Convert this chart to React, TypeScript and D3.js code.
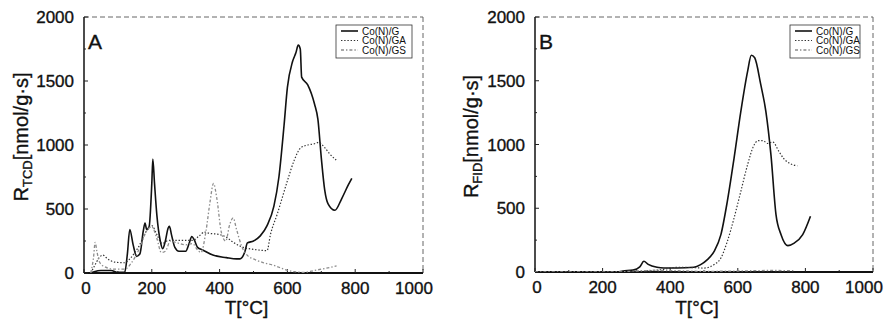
import React from "react";
import * as d3 from "d3";

// axis ticks
const xTicks = [0, 200, 400, 600, 800, 1000];
const yTicks = [0, 500, 1000, 1500, 2000];
const seriesNames = ["Co(N)/G", "Co(N)/GA", "Co(N)/GS"];

type Pt = [number, number];

// panel A: TCD signal, [T °C, R nmol/g s]
const tcdG: Pt[] = [
  [20, 0], [30, 10], [50, 20], [80, 20], [100, 5], [120, 5], [128, 150], [135, 340], [145, 220],
  [155, 130], [165, 150], [175, 330], [180, 390], [185, 340], [192, 360], [200, 700], [203, 890],
  [208, 700], [215, 450], [225, 250], [232, 190], [240, 250], [248, 350], [252, 365], [258, 300],
  [268, 200], [280, 170], [300, 170], [310, 230], [318, 285], [325, 260], [335, 200], [350, 180],
  [380, 140], [420, 120], [450, 110], [460, 110], [475, 170], [482, 235], [500, 250], [520, 290],
  [540, 370], [560, 520], [575, 750], [590, 1150], [600, 1450], [615, 1650], [625, 1720],
  [632, 1780], [638, 1750], [642, 1530], [660, 1470], [680, 1320], [690, 1200], [700, 900],
  [710, 650], [720, 540], [740, 490], [760, 580], [780, 690], [790, 740],
];
const tcdGA: Pt[] = [
  [20, 0], [30, 50], [45, 120], [55, 140], [70, 110], [90, 85], [120, 80], [135, 110], [160, 200],
  [185, 330], [200, 370], [215, 300], [230, 230], [250, 255], [280, 255], [320, 255], [340, 290],
  [355, 320], [370, 310], [400, 300], [420, 280], [440, 240], [470, 200], [500, 185], [540, 175],
  [550, 300], [570, 460], [600, 720], [620, 880], [640, 980], [660, 1000], [680, 1010],
  [692, 1020], [710, 980], [725, 930], [745, 880],
];
const tcdGS: Pt[] = [
  [20, 0], [28, 120], [33, 240], [38, 170], [45, 90], [60, 50], [90, 30], [120, 30], [140, 80],
  [165, 200], [185, 330], [200, 360], [215, 270], [228, 160], [240, 170], [255, 250], [270, 240],
  [300, 220], [320, 230], [335, 180], [345, 160], [360, 330], [372, 560], [382, 700], [392, 580],
  [405, 320], [418, 250], [430, 380], [440, 430], [450, 340], [465, 210], [485, 130], [500, 110],
  [530, 80], [560, 60], [590, 30], [620, 10], [650, 5], [680, 20], [710, 35], [745, 55],
];

// panel B: FID signal
const fidG: Pt[] = [
  [0, 0], [240, 0], [260, 8], [290, 15], [310, 40], [322, 84], [335, 60], [361, 37], [381, 31],
  [421, 31], [470, 37], [490, 58], [510, 97], [530, 162], [550, 293], [569, 554], [589, 894],
  [609, 1260], [629, 1574], [640, 1700], [650, 1680], [668, 1469], [683, 1260], [698, 920],
  [713, 450], [728, 293], [748, 207], [767, 227], [792, 293], [815, 437],
];
const fidGA: Pt[] = [
  [0, 0], [250, 0], [300, 5], [380, 20], [420, 37], [460, 35], [500, 31], [530, 58], [550, 110],
  [569, 240], [589, 424], [609, 633], [629, 842], [647, 990], [660, 1030], [675, 1030],
  [688, 1008], [703, 1020], [722, 944], [736, 889], [756, 849], [776, 833],
];
const fidGS: Pt[] = [
  [0, 0], [240, 0], [300, 8], [350, 12], [420, 10], [500, 5], [600, 8], [700, 12], [770, 10],
];

const lineStyles = [
  { stroke: "#111", width: 1.6, dash: undefined as string | undefined },
  { stroke: "#333", width: 1.2, dash: "1.4 1.8" },
  { stroke: "#8c8c8c", width: 1.3, dash: "3 2 1.4 2" },
];

const FONT = "'Liberation Sans', Arial, sans-serif";
// heavier text like the scanned figure
const ink = { fill: "#111", stroke: "#111", strokeWidth: 0.35 };

function Panel(props: {
  left: number; right: number; top: number; bottom: number;
  letter: string; sub: string; series: Pt[][];
  legX: number; legW: number; titleX: number;
}) {
  const { left, right, top, bottom, letter, sub, series, legX, legW, titleX } = props;
  const x = d3.scaleLinear().domain([0, 1000]).range([left, right]);
  const y = d3.scaleLinear().domain([0, 2000]).range([bottom, top]);
  const line = d3.line<Pt>().x((d) => x(d[0])).y((d) => y(d[1])).curve(d3.curveMonotoneX);
  const minorX = d3.range(0, 1001, 100);
  const minorY = d3.range(0, 2001, 250);
  const legY = 25;

  return (
    <g>
      <defs>
        <clipPath id={"clip" + letter}>
          <rect x={left} y={top} width={right - left} height={bottom - top} />
        </clipPath>
      </defs>
      {/* frame: top/right are faint in the scan */}
      <line x1={left} x2={right} y1={top} y2={top} stroke="#666" strokeWidth={1} strokeDasharray="5 3" />
      <line x1={right} x2={right} y1={top} y2={bottom} stroke="#666" strokeWidth={1} strokeDasharray="5 3" />
      <line x1={left} x2={left} y1={top} y2={bottom} stroke="#111" strokeWidth={1.5} />
      <line x1={left} x2={right} y1={bottom} y2={bottom} stroke="#111" strokeWidth={2} />

      {minorX.map((t) => (
        <line key={"mx" + t} x1={x(t)} x2={x(t)} y1={bottom} y2={bottom - (t % 200 === 0 ? 4 : 2)} stroke="#222" />
      ))}
      {minorY.map((t) => (
        <line key={"my" + t} x1={left} x2={left + (t % 500 === 0 ? 4 : 2)} y1={y(t)} y2={y(t)} stroke="#222" />
      ))}

      {xTicks.map((t) => (
        <text key={"xt" + t} x={x(t) + (t === 1000 ? -9 : t === 0 ? 2 : 0)} y={bottom + 21}
          textAnchor="middle" fontFamily={FONT} fontSize={17} {...ink}>{t}</text>
      ))}
      {yTicks.map((t) => (
        <text key={"yt" + t} x={left - 10} y={y(t) + 6}
          textAnchor="end" fontFamily={FONT} fontSize={17} {...ink}>{t}</text>
      ))}

      <text x={(left + right) / 2 - 7} y={314} textAnchor="middle" fontFamily={FONT} fontSize={19} {...ink}>T[°C]</text>
      <text transform={`translate(${titleX},${(top + bottom) / 2 - 8}) rotate(-90)`} textAnchor="middle"
        fontFamily={FONT} fontSize={20} {...ink}>
        R<tspan fontSize={13} dy={4}>{sub}</tspan><tspan dy={-4}>[nmol/g·s]</tspan>
      </text>

      <text x={left + 4} y={top + 32} fontFamily={FONT} fontSize={21} {...ink}>{letter}</text>

      <g clipPath={`url(#clip${letter})`}>
        {series.map((s, i) => (
          <path key={i} d={line(s) || ""} fill="none" stroke={lineStyles[i].stroke}
            strokeWidth={lineStyles[i].width} strokeDasharray={lineStyles[i].dash} />
        ))}
      </g>

      <rect x={legX} y={legY} width={legW} height={33} fill="white" stroke="#333" strokeWidth={0.8} />
      {seriesNames.map((n, i) => (
        <g key={n}>
          <line x1={legX + 5} x2={legX + 22} y1={legY + 6 + i * 9.5} y2={legY + 6 + i * 9.5}
            stroke={lineStyles[i].stroke} strokeWidth={lineStyles[i].width} strokeDasharray={lineStyles[i].dash} />
          <text x={legX + 26} y={legY + 9.5 + i * 9.5} fontFamily={FONT} fontSize={10} fill="#111">{n}</text>
        </g>
      ))}
    </g>
  );
}

export default function App() {
  return (
    <svg width={886} height={322} style={{ position: "absolute", left: 0, top: 0, background: "white" }}>
      <Panel left={84} right={423} top={17} bottom={273} letter="A" sub="TCD"
        series={[tcdG, tcdGA, tcdGS]} legX={336} legW={76} titleX={28} />
      <Panel left={535} right={873} top={17} bottom={272} letter="B" sub="FID"
        series={[fidG, fidGA, fidGS]} legX={790} legW={70} titleX={478} />
    </svg>
  );
}
